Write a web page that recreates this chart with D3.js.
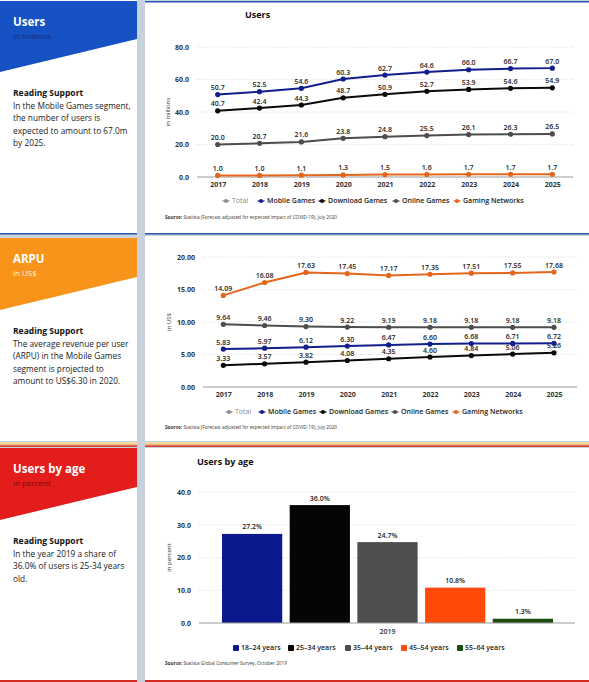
<!DOCTYPE html>
<html><head><meta charset="utf-8">
<script src="https://cdn.jsdelivr.net/npm/d3@7"></script>
<style>
body{margin:0;background:#c9d3de;}
svg{display:block;font-family:"Open Sans",sans-serif;}
</style>
</head><body>
<svg id="c" width="589" height="682"></svg>
<script>
// ---------- DATA ----------
const years = ["2017","2018","2019","2020","2021","2022","2023","2024","2025"];
const legendNames = ["Total","Mobile Games","Download Games","Online Games","Gaming Networks"];

const usersMobile   = [50.7,52.5,54.6,60.3,62.7,64.6,66.0,66.7,67.0];
const usersDownload = [40.7,42.4,44.3,48.7,50.9,52.7,53.9,54.6,54.9];
const usersOnline   = [20.0,20.7,21.6,23.8,24.8,25.5,26.1,26.3,26.5];
const usersGaming   = [1.0,1.0,1.1,1.3,1.5,1.6,1.7,1.7,1.7];
const usersTicks    = [0,20,40,60,80];

const arpuMobile   = [5.83,5.97,6.12,6.30,6.47,6.60,6.68,6.71,6.72];
const arpuDownload = [3.33,3.57,3.82,4.08,4.35,4.60,4.84,5.06,5.26];
const arpuOnline   = [9.64,9.46,9.30,9.22,9.19,9.18,9.18,9.18,9.18];
const arpuGaming   = [14.09,16.08,17.63,17.45,17.17,17.35,17.51,17.55,17.68];
const arpuTicks    = [0,5,10,15,20];

const ageGroups = ["18-24 years","25-34 years","35-44 years","45-54 years","55-64 years"];
const ageShares = [27.2,36.0,24.7,10.8,1.3];
const ageTicks  = [0,10,20,30,40];
const ageYear   = "2019";

// ---------- STYLE ----------
const seriesColors = {"Total":"#8c8c8c","Mobile Games":"#121e8c","Download Games":"#0a0a0a","Online Games":"#4d4d4d","Gaming Networks":"#e4661c"};
const ageColors = ["#0c198c","#050505","#4e4e4e","#ff4a0a","#1e4d14"];

const svg = d3.select("#c");

// ---------- PANELS ----------
function leftPanel(y0, y1, headColor, hTop, hLeft, hRight, title, sub, subColor, lines){
  svg.append("rect").attr("x",0).attr("y",y0).attr("width",137).attr("height",y1-y0).attr("fill","#fff");
  svg.append("path").attr("d",`M0,${hTop}L137,${hTop}L137,${hRight}L0,${hLeft}Z`).attr("fill",headColor);
  svg.append("text").attr("x",13).attr("y",hTop+25).attr("fill","#fff").attr("font-size",11.5).attr("font-weight",700).text(title);
  svg.append("text").attr("x",13).attr("y",hTop+37.5).attr("fill",subColor).attr("font-size",8).text(sub);
  const by = hLeft+23.5;
  svg.append("text").attr("x",13).attr("y",by).attr("fill","#111").attr("font-size",8.5).attr("font-weight",700).text("Reading Support");
  lines.forEach((l,i)=>svg.append("text").attr("x",13).attr("y",by+13.5+i*12.3).attr("fill","#222").attr("font-size",8.3).text(l));
}
function rightPanel(y0,y1){
  svg.append("rect").attr("x",145).attr("y",y0).attr("width",444).attr("height",y1-y0).attr("fill","#fff");
}
// section 1
leftPanel(0,233,"#1652c4",1,72,39,"Users","in millions","#0f2a72",
  ["In the Mobile Games segment,","the number of users is","expected to amount to 67.0m","by 2025."]);
rightPanel(1,233);
svg.append("rect").attr("x",145).attr("y",1).attr("width",444).attr("height",1.5).attr("fill","#2a55b0");
svg.append("rect").attr("x",0).attr("y",233).attr("width",589).attr("height",1.5).attr("fill","#2e56a8");
// section 2
leftPanel(238,441,"#f89419",238,310,277,"ARPU","in US$","#fff6d8",
  ["The average revenue per user","(ARPU) in the Mobile Games","segment is projected to","amount to US$6.30 in 2020."]);
rightPanel(236,441);
svg.append("rect").attr("x",0).attr("y",442).attr("width",589).attr("height",2).attr("fill","#f3dca4");
svg.append("rect").attr("x",0).attr("y",444).attr("width",589).attr("height",1.5).attr("fill","#f0b070");
svg.append("rect").attr("x",0).attr("y",445.5).attr("width",589).attr("height",1.5).attr("fill","#d43b2b");
// section 3
leftPanel(448,682,"#e31d1c",448,520,487,"Users by age","in percent","#7a0b0b",
  ["In the year 2019 a share of","36.0% of users is 25-34 years","old."]);
rightPanel(448,682);
svg.append("rect").attr("x",0).attr("y",680).attr("width",589).attr("height",2).attr("fill","#d42a22");
// gap column
svg.append("rect").attr("x",137).attr("y",0).attr("width",8).attr("height",682).attr("fill","#c6d1dd");

// ---------- LINE CHARTS ----------
function lineChart(o){
  const g = svg.append("g");
  const x = d3.scalePoint().domain(years).range([o.x0,o.x1]);
  const y = d3.scaleLinear().domain([0,o.max]).range([o.yb,o.yt]);
  o.ticks.forEach(t=>{
    if(t===0) return;
    g.append("line").attr("x1",o.pl).attr("x2",o.pr).attr("y1",y(t)).attr("y2",y(t))
      .attr("stroke","#d4d4d4").attr("stroke-width",0.8).attr("stroke-dasharray","1,1.5");
  });
  g.append("line").attr("x1",o.pl).attr("x2",o.pr).attr("y1",y(0)).attr("y2",y(0)).attr("stroke","#9a9a9a").attr("stroke-width",1);
  const ya = d3.axisLeft(y).tickValues(o.ticks).tickFormat(d=>d.toFixed(o.dec)).tickSize(0).tickPadding(0);
  const yg = g.append("g").attr("transform",`translate(${o.pl-8},0)`).call(ya);
  yg.select(".domain").remove();
  yg.selectAll("text").attr("font-size",7).attr("font-weight",700).attr("fill","#333").attr("font-family","Open Sans");
  const xa = d3.axisBottom(x).tickSize(0).tickPadding(0);
  const xg = g.append("g").attr("transform",`translate(0,${o.yb+5})`).call(xa);
  xg.select(".domain").remove();
  xg.selectAll("text").attr("font-size",7).attr("font-weight",700).attr("fill","#333").attr("font-family","Open Sans");
  g.append("text").attr("transform",`translate(${o.ytx},${(o.yb+o.yt)/2}) rotate(-90)`).attr("text-anchor","middle")
    .attr("font-size",6).attr("fill","#333").text(o.ytitle);
  if(o.title) g.append("text").attr("x",o.titleX).attr("y",o.titleY).attr("font-size",9).attr("font-weight",700).attr("fill","#111").text(o.title);
  const line = d3.line().x((d,i)=>x(years[i])).y(d=>y(d));
  o.series.forEach(s=>{
    const c = seriesColors[s.name];
    g.append("path").attr("d",line(s.values)).attr("fill","none").attr("stroke",c).attr("stroke-width",2);
    g.selectAll(null).data(s.values).enter().append("circle").attr("cx",(d,i)=>x(years[i])).attr("cy",d=>y(d)).attr("r",2.6).attr("fill",c);
    g.selectAll(null).data(s.values).enter().append("text").attr("x",(d,i)=>x(years[i])).attr("y",d=>y(d)-4.5)
      .attr("text-anchor","middle").attr("font-size",7).attr("font-weight",600).attr("fill","#222").text(d=>d.toFixed(o.ldec));
  });
  legendNames.forEach((n,i)=>{
    const lx = o.legX[i], c = seriesColors[n];
    g.append("line").attr("x1",lx-3.5).attr("x2",lx+3.5).attr("y1",o.legY).attr("y2",o.legY).attr("stroke",c).attr("stroke-width",1.3);
    g.append("circle").attr("cx",lx).attr("cy",o.legY).attr("r",2).attr("fill",c);
    g.append("text").attr("x",lx+6).attr("y",o.legY+2.4).attr("font-size",7).attr("font-weight",n==="Total"?400:600)
      .attr("fill",n==="Total"?"#888":"#222").text(n);
  });
  const src = g.append("text").attr("x",165).attr("y",o.srcY).attr("font-size",4.7).attr("fill","#333");
  src.append("tspan").attr("font-weight",700).text("Source: ");
  src.append("tspan").text(o.src);
}

lineChart({x0:217.7,x1:552.3,yb:177,yt:47,max:80,ticks:usersTicks,dec:1,ldec:1,pl:197,pr:573,
  ytitle:"in millions",ytx:170,title:"Users",titleX:245,titleY:18,
  series:[{name:"Gaming Networks",values:usersGaming},{name:"Online Games",values:usersOnline},
          {name:"Download Games",values:usersDownload},{name:"Mobile Games",values:usersMobile}],
  legX:[226,261,322,396,457],legY:201,srcY:219,
  src:"Statista (Forecast adjusted for expected impact of COVID-19), July 2020"});

lineChart({x0:223.3,x1:554,yb:387,yt:257,max:20,ticks:arpuTicks,dec:2,ldec:2,pl:203,pr:577,
  ytitle:"in US$",ytx:171,title:null,
  series:[{name:"Download Games",values:arpuDownload},{name:"Mobile Games",values:arpuMobile},
          {name:"Online Games",values:arpuOnline},{name:"Gaming Networks",values:arpuGaming}],
  legX:[229,262,323,395,456],legY:412,srcY:429,
  src:"Statista (Forecast adjusted for expected impact of COVID-19), July 2020"});

// ---------- BAR CHART ----------
(function(){
  const g = svg.append("g");
  const x = d3.scaleBand().domain(ageGroups).range([222,553]).paddingInner(0.11).paddingOuter(0);
  const y = d3.scaleLinear().domain([0,40]).range([623,492]);
  const pl=199, pr=575;
  ageTicks.forEach(t=>{
    if(t===0) return;
    g.append("line").attr("x1",pl).attr("x2",pr).attr("y1",y(t)).attr("y2",y(t))
      .attr("stroke","#d4d4d4").attr("stroke-width",0.8).attr("stroke-dasharray","1,1.5");
  });
  g.selectAll(null).data(ageShares).enter().append("rect")
    .attr("x",(d,i)=>x(ageGroups[i])).attr("y",d=>y(d)).attr("width",x.bandwidth()).attr("height",d=>y(0)-y(d))
    .attr("fill",(d,i)=>ageColors[i]);
  g.selectAll(null).data(ageShares).enter().append("text")
    .attr("x",(d,i)=>x(ageGroups[i])+x.bandwidth()/2).attr("y",d=>y(d)-4.5).attr("text-anchor","middle")
    .attr("font-size",7).attr("font-weight",600).attr("fill","#222").text(d=>d.toFixed(1)+"%");
  g.append("line").attr("x1",pl).attr("x2",pr).attr("y1",y(0)).attr("y2",y(0)).attr("stroke","#9a9a9a").attr("stroke-width",1);
  const ya = d3.axisLeft(y).tickValues(ageTicks).tickFormat(d=>d.toFixed(1)).tickSize(0).tickPadding(0);
  const yg = g.append("g").attr("transform",`translate(${pl-8},0)`).call(ya);
  yg.select(".domain").remove();
  yg.selectAll("text").attr("font-size",7).attr("font-weight",700).attr("fill","#333").attr("font-family","Open Sans");
  g.append("text").attr("x",(222+553)/2).attr("y",634).attr("text-anchor","middle").attr("font-size",7).attr("font-weight",600).attr("fill","#333").text(ageYear);
  g.append("text").attr("transform",`translate(171,${(623+492)/2}) rotate(-90)`).attr("text-anchor","middle")
    .attr("font-size",6).attr("fill","#333").text("in percent");
  g.append("text").attr("x",197).attr("y",465).attr("font-size",9).attr("font-weight",700).attr("fill","#111").text("Users by age");
  const legX=[236,291,348,404,460];
  ageGroups.forEach((a,i)=>{
    g.append("rect").attr("x",legX[i]-3).attr("y",645).attr("width",6).attr("height",6).attr("rx",1).attr("fill",ageColors[i]);
    g.append("text").attr("x",legX[i]+5).attr("y",650.4).attr("font-size",7).attr("font-weight",600).attr("fill","#222").text(a.replace("-","–"));
  });
  const src = g.append("text").attr("x",165).attr("y",665).attr("font-size",4.7).attr("fill","#333");
  src.append("tspan").attr("font-weight",700).text("Source: ");
  src.append("tspan").text("Statista Global Consumer Survey, October 2019");
})();
</script>
</body></html>
